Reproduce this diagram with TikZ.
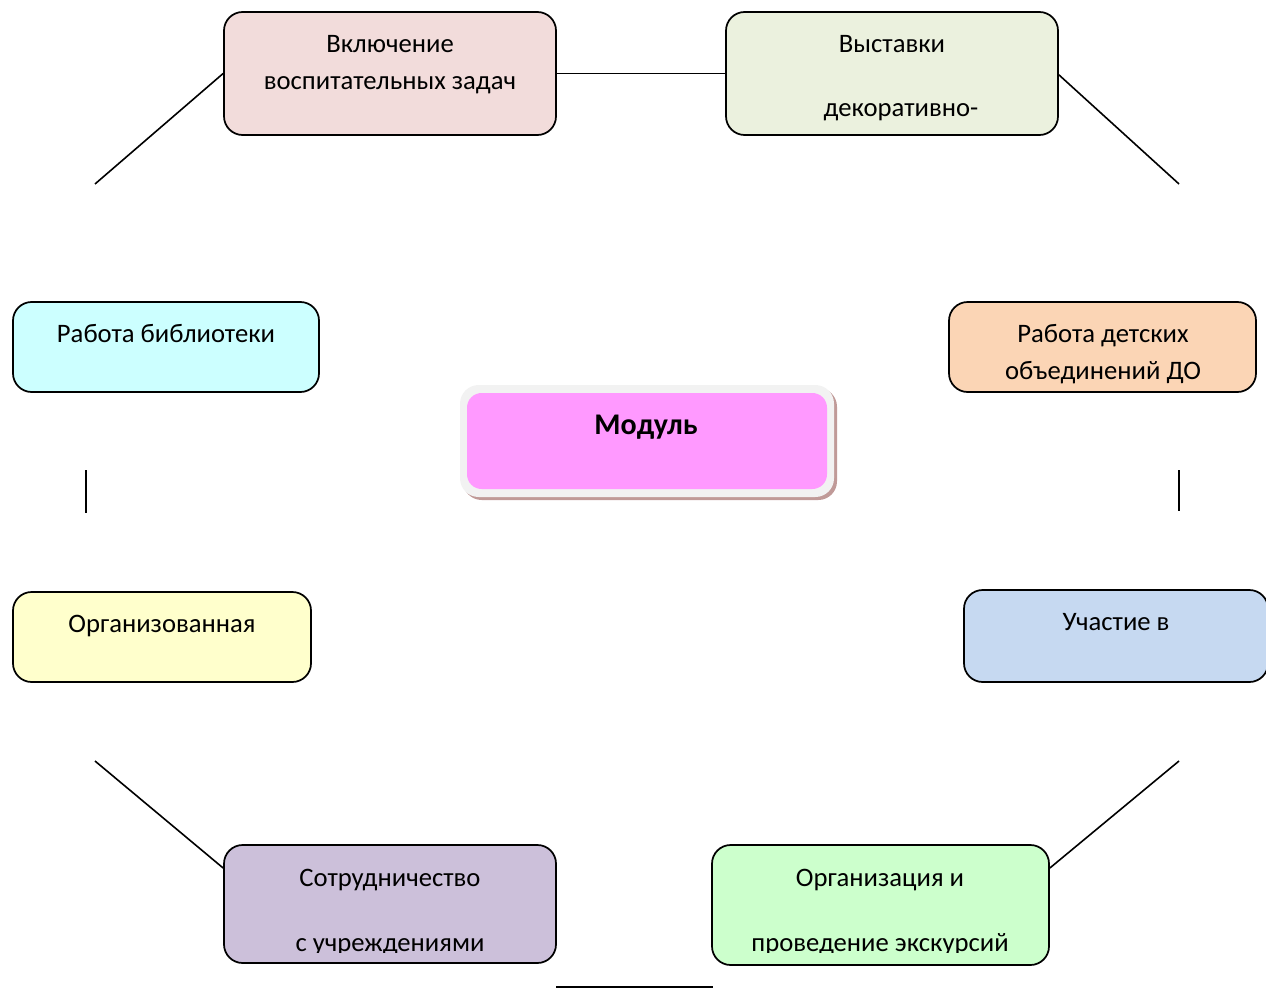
\documentclass[tikz,border=0pt]{standalone}
\usepackage{fontspec}
\setmainfont{Carlito}
\definecolor{cA}{HTML}{F2DCDB}
\definecolor{cB}{HTML}{EBF1DE}
\definecolor{cC}{HTML}{CCFFFF}
\definecolor{cD}{HTML}{FBD5B5}
\definecolor{cE}{HTML}{FFFFCC}
\definecolor{cF}{HTML}{C6D9F1}
\definecolor{cG}{HTML}{CCC0DA}
\definecolor{cH}{HTML}{CCFFCC}
\definecolor{cPink}{HTML}{FF99FF}
\definecolor{cGray}{HTML}{F2F2F2}
\definecolor{cShadow}{HTML}{C09A98}
\begin{document}
\begin{tikzpicture}[x=0.75pt,y=-0.75pt,
  box/.style={draw=black, line width=1.3pt, rounded corners=14pt, rectangle, inner sep=0pt},
  lbl/.style={anchor=base, font=\fontsize{20}{24}\selectfont, inner sep=0pt},
  conn/.style={draw=black, line width=1.2pt}]
\useasboundingbox (0,0) rectangle (1266,988);
% boxes
\node[box, fill=cA, minimum width=249pt, minimum height=92.25pt] (b1) at (390,73.5) {};
\node[box, fill=cB, minimum width=249pt, minimum height=92.25pt] (b2) at (892,73.5) {};
\node[box, fill=cC, minimum width=229.5pt, minimum height=67.5pt] (b3) at (166,347) {};
\node[box, fill=cD, minimum width=230.25pt, minimum height=67.5pt] (b4) at (1102.5,347) {};
\node[box, fill=cE, minimum width=223.5pt, minimum height=67.5pt] (b6) at (162,637) {};
\node[box, fill=cF, minimum width=228pt, minimum height=69pt] (b7) at (1116,636) {};
\node[box, fill=cG, minimum width=249pt, minimum height=88.5pt] (b8) at (390,904) {};
\node[box, fill=cH, minimum width=252.75pt, minimum height=90pt] (b9) at (880.5,905) {};
% central module
\node[rectangle, fill=cShadow, rounded corners=14pt, minimum width=280.5pt, minimum height=84pt] (msh) at (650,444) {};
\node[rectangle, fill=cGray, rounded corners=14pt, minimum width=280.5pt, minimum height=84pt] (mo) at (647,441) {};
\node[rectangle, fill=cPink, rounded corners=11pt, minimum width=270pt, minimum height=72pt] (mi) at (647,441) {};
% labels
\node[lbl] (t1a) at (390,53) {Включение};
\node[lbl] (t1b) at (390,90) {воспитательных задач};
\node[lbl] (t2a) at (892,53) {Выставки};
\node[lbl] (t2b) at (901,117) {декоративно-};
\node[lbl] (t3) at (166,342) {Работа библиотеки};
\node[lbl] (t4a) at (1103,342) {Работа детских};
\node[lbl] (t4b) at (1103,379) {объединений ДО};
\node[lbl, font=\fontsize{22.5}{26}\selectfont\bfseries] (tm) at (646,434) {Модуль};
\node[lbl] (t6) at (162,632) {Организованная};
\node[lbl] (t7) at (1116,630) {Участие в};
\node[lbl] (t8a) at (390,886) {Сотрудничество};
\node[lbl] (t9a) at (880,886) {Организация и};
\begin{scope}
\clip (0,0) rectangle (1266,952);
\node[lbl] (t8b) at (390,951) {с учреждениями};
\node[lbl] (t9b) at (880,951) {проведение экскурсий};
\end{scope}
% free ends
\coordinate (e1) at (95,184);
\coordinate (e2) at (1179,184);
\coordinate (v1a) at (86,470);
\coordinate (v1b) at (86,513);
\coordinate (v2a) at (1179,470);
\coordinate (v2b) at (1179,511);
\coordinate (e3) at (95,761);
\coordinate (e4) at (1179,761);
\coordinate (h1) at (556,987);
\coordinate (h2) at (713,987);
% connectors
\draw[conn] (e1) -- (b1.west);
\draw[conn] (b1.east) -- (b2.west);
\draw[conn] ([yshift=-1pt]b2.east) -- (e2);
\draw[conn] (v1a) -- (v1b);
\draw[conn] (v2a) -- (v2b);
\draw[conn] (e3) -- ([yshift=27pt]b8.west);
\draw[conn] (e4) -- ([yshift=27.75pt]b9.east);
\draw[conn] (h1) -- (h2);
\end{tikzpicture}
\end{document}
